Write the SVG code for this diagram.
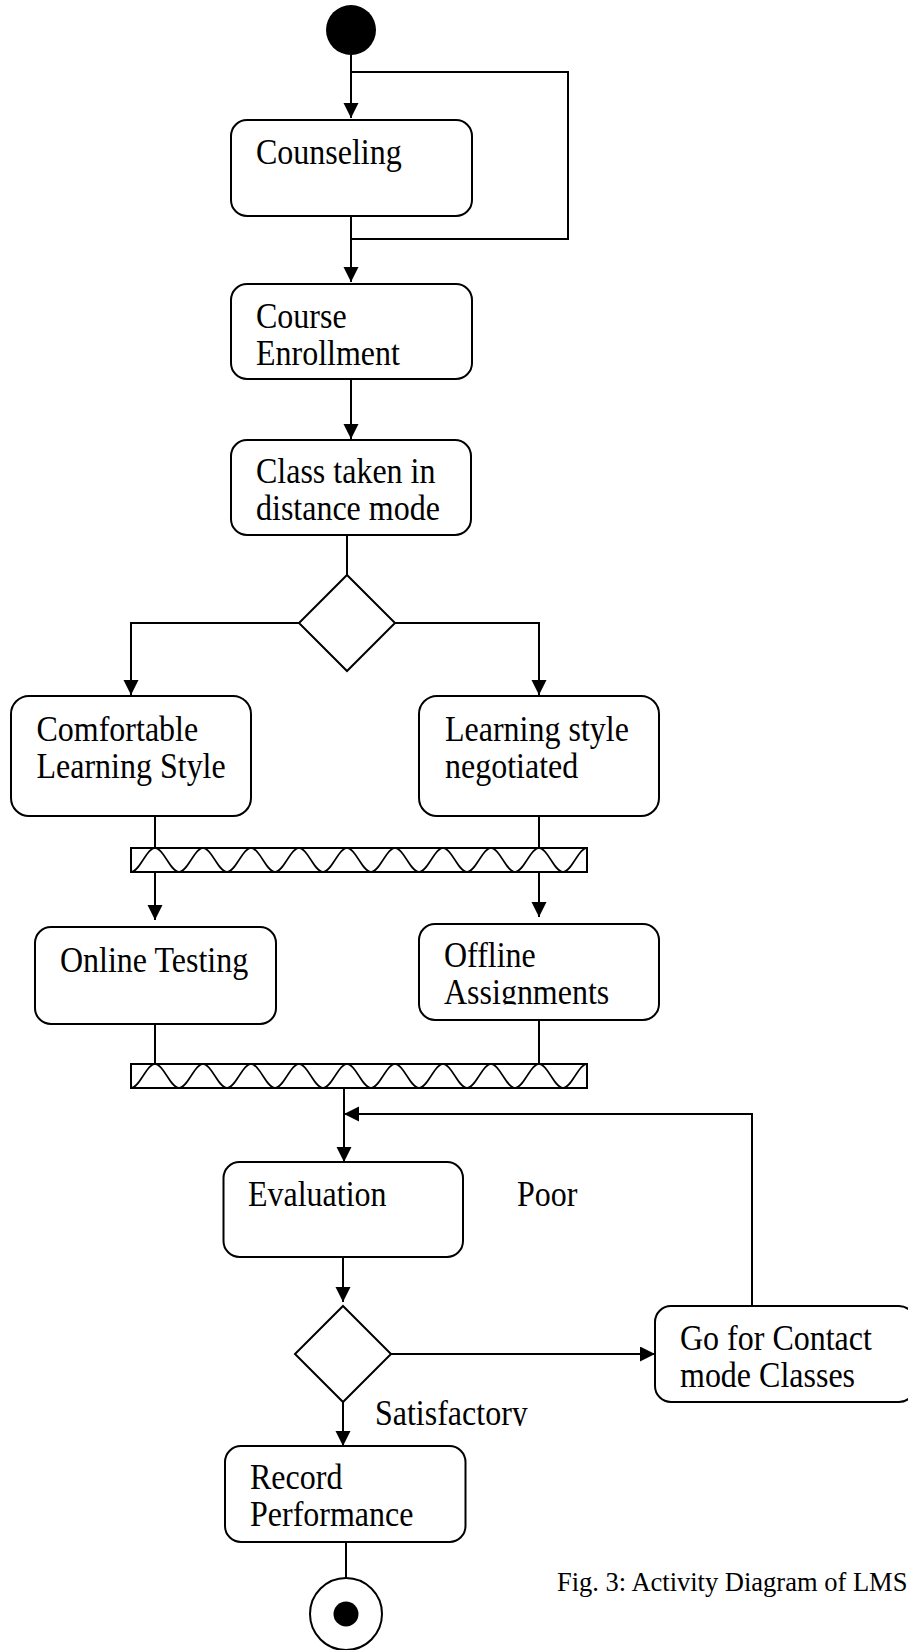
<svg xmlns="http://www.w3.org/2000/svg" width="908" height="1650" viewBox="0 0 908 1650">
<style>
.box{fill:#fff;stroke:#000;stroke-width:2}
.ln{fill:none;stroke:#000;stroke-width:2}
.wave{fill:none;stroke:#000;stroke-width:1.6}
.t{font-family:"Liberation Serif","Times New Roman",serif;font-size:32px;fill:#000}
.cap{font-family:"Liberation Serif","Times New Roman",serif;font-size:26.5px;fill:#000}
</style>
<defs>
<marker id="ah" markerUnits="userSpaceOnUse" markerWidth="16" markerHeight="16" refX="15" refY="7.5" orient="auto">
<path d="M0,0 L15,7.5 L0,15 z" fill="#000"/>
</marker>
<clipPath id="clipA"><rect x="400" y="940" width="260" height="64.5"/></clipPath>
<clipPath id="clipS"><rect x="360" y="1390" width="200" height="36"/></clipPath>
</defs>

<g id="connectors">
<line class="ln" x1="351" y1="55" x2="351" y2="118" marker-end="url(#ah)"/>
<polyline class="ln" points="351,72 568,72 568,239 351,239"/>
<line class="ln" x1="351" y1="216" x2="351" y2="282" marker-end="url(#ah)"/>
<line class="ln" x1="351" y1="379" x2="351" y2="439" marker-end="url(#ah)"/>
<line class="ln" x1="347" y1="535" x2="347" y2="575"/>
<polyline class="ln" points="299,623 131,623 131,695" marker-end="url(#ah)"/>
<polyline class="ln" points="395,623 539,623 539,695" marker-end="url(#ah)"/>
<line class="ln" x1="155" y1="816" x2="155" y2="848"/>
<line class="ln" x1="539" y1="816" x2="539" y2="848"/>
<line class="ln" x1="155" y1="872" x2="155" y2="920" marker-end="url(#ah)"/>
<line class="ln" x1="539" y1="872" x2="539" y2="917" marker-end="url(#ah)"/>
<line class="ln" x1="155" y1="1024" x2="155" y2="1064"/>
<line class="ln" x1="539" y1="1020" x2="539" y2="1064"/>
<line class="ln" x1="344" y1="1088" x2="344" y2="1162" marker-end="url(#ah)"/>
<polyline class="ln" points="752,1306 752,1114 344,1114" marker-end="url(#ah)"/>
<line class="ln" x1="343" y1="1257" x2="343" y2="1302" marker-end="url(#ah)"/>
<line class="ln" x1="391" y1="1354" x2="655" y2="1354" marker-end="url(#ah)"/>
<line class="ln" x1="343" y1="1402" x2="343" y2="1446" marker-end="url(#ah)"/>
<line class="ln" x1="346" y1="1542" x2="346" y2="1578"/>
</g>

<g id="start">
<circle cx="351" cy="30" r="25" fill="#000"/>
</g>

<g id="counseling">
<rect class="box" x="231" y="120" width="241" height="96" rx="16"/>
<text class="t" transform="translate(256 164) scale(1 1.1)">Counseling</text>
</g>

<g id="course-enrollment">
<rect class="box" x="231" y="284" width="241" height="95" rx="16"/>
<text class="t" transform="translate(256 328) scale(1 1.1)"><tspan x="0" y="0">Course</tspan><tspan x="0" y="33.6">Enrollment</tspan></text>
</g>

<g id="class-distance">
<rect class="box" x="231" y="440" width="240" height="95" rx="16"/>
<text class="t" transform="translate(256 482.5) scale(1 1.1)"><tspan x="0" y="0">Class taken in</tspan><tspan x="0" y="34.5">distance mode</tspan></text>
</g>

<g id="decision1">
<polygon class="box" points="347,575 395,623 347,671 299,623"/>
</g>

<g id="comfortable">
<rect class="box" x="11" y="696" width="240" height="120" rx="18"/>
<text class="t" transform="translate(36.5 741) scale(1 1.1)"><tspan x="0" y="0">Comfortable</tspan><tspan x="0" y="33.6">Learning Style</tspan></text>
</g>

<g id="negotiated">
<rect class="box" x="419" y="696" width="240" height="120" rx="18"/>
<text class="t" transform="translate(445 741) scale(1 1.1)"><tspan x="0" y="0">Learning style</tspan><tspan x="0" y="33.6">negotiated</tspan></text>
</g>

<g id="fork1">
<rect class="box" x="131" y="848" width="456" height="24"/>
<path class="wave" d="M131,872 c8.7,0 15.3,-24 24,-24 c8.7,0 15.3,24 24,24 c8.7,0 15.3,-24 24,-24 c8.7,0 15.3,24 24,24 c8.7,0 15.3,-24 24,-24 c8.7,0 15.3,24 24,24 c8.7,0 15.3,-24 24,-24 c8.7,0 15.3,24 24,24 c8.7,0 15.3,-24 24,-24 c8.7,0 15.3,24 24,24 c8.7,0 15.3,-24 24,-24 c8.7,0 15.3,24 24,24 c8.7,0 15.3,-24 24,-24 c8.7,0 15.3,24 24,24 c8.7,0 15.3,-24 24,-24 c8.7,0 15.3,24 24,24 c8.7,0 15.3,-24 24,-24 c8.7,0 15.3,24 24,24 c8.7,0 15.3,-24 24,-24"/>
</g>

<g id="online-testing">
<rect class="box" x="35" y="927" width="241" height="97" rx="16"/>
<text class="t" transform="translate(60 971.5) scale(1 1.1)">Online Testing</text>
</g>

<g id="offline-assignments">
<rect class="box" x="419" y="924" width="240" height="96" rx="16"/>
<text class="t" transform="translate(444 967) scale(1 1.1)"><tspan x="0" y="0">Offline</tspan></text>
<g clip-path="url(#clipA)"><text class="t" transform="translate(444 1003.5) scale(1 1.1)">Assignments</text></g>
</g>

<g id="join1">
<rect class="box" x="131" y="1064" width="456" height="24"/>
<path class="wave" d="M131,1088 c8.7,0 15.3,-24 24,-24 c8.7,0 15.3,24 24,24 c8.7,0 15.3,-24 24,-24 c8.7,0 15.3,24 24,24 c8.7,0 15.3,-24 24,-24 c8.7,0 15.3,24 24,24 c8.7,0 15.3,-24 24,-24 c8.7,0 15.3,24 24,24 c8.7,0 15.3,-24 24,-24 c8.7,0 15.3,24 24,24 c8.7,0 15.3,-24 24,-24 c8.7,0 15.3,24 24,24 c8.7,0 15.3,-24 24,-24 c8.7,0 15.3,24 24,24 c8.7,0 15.3,-24 24,-24 c8.7,0 15.3,24 24,24 c8.7,0 15.3,-24 24,-24 c8.7,0 15.3,24 24,24 c8.7,0 15.3,-24 24,-24"/>
</g>

<g id="evaluation">
<rect class="box" x="223.5" y="1162" width="239.5" height="95" rx="16"/>
<text class="t" transform="translate(248 1206) scale(1 1.1)">Evaluation</text>
</g>

<g id="label-poor">
<text class="t" transform="translate(517 1206) scale(1 1.1)">Poor</text>
</g>

<g id="decision2">
<polygon class="box" points="343,1306 391,1354 343,1402 295,1354"/>
</g>

<g id="contact-mode">
<rect class="box" x="655" y="1306" width="260" height="96" rx="16"/>
<text class="t" transform="translate(680 1350) scale(1 1.1)"><tspan x="0" y="0">Go for Contact</tspan><tspan x="0" y="33.6">mode Classes</tspan></text>
</g>

<g id="label-satisfactory">
<g clip-path="url(#clipS)"><text class="t" transform="translate(375 1425) scale(1 1.1)">Satisfactory</text></g>
</g>

<g id="record-performance">
<rect class="box" x="225" y="1446" width="240.5" height="96" rx="16"/>
<text class="t" transform="translate(250 1489) scale(1 1.1)"><tspan x="0" y="0">Record</tspan><tspan x="0" y="33.6">Performance</tspan></text>
</g>

<g id="end">
<circle cx="346" cy="1614" r="36" fill="#fff" stroke="#000" stroke-width="2"/>
<circle cx="346" cy="1614" r="12.5" fill="#000"/>
</g>

<g id="caption">
<text class="cap" x="557" y="1591">Fig. 3: Activity Diagram of LMS</text>
</g>
</svg>
